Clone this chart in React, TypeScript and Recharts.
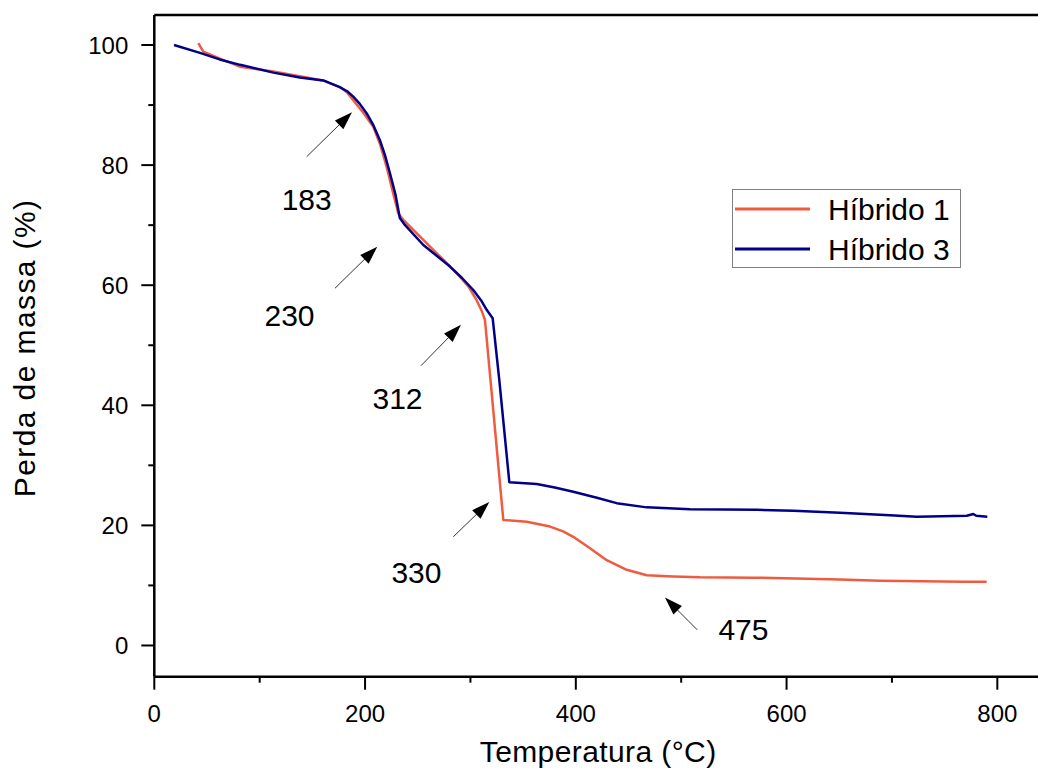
import React from 'react';
import {
  LineChart,
  Line,
  XAxis,
  YAxis,
  ReferenceLine,
  ReferenceDot,
  Legend,
  Label,
} from 'recharts';

// Thermogravimetric curves: temperature (°C) vs remaining mass (%)
const hibrido1Temp = [
  41.8, 46.5, 64, 81.3, 113, 138, 160, 176, 183, 188.8, 198, 207.8, 214, 220.5, 226,
  231.5, 236.3, 245.8, 264.8, 287, 298, 305.9, 310.5, 313.8, 320.2, 331.2, 353.4,
  375.5, 388, 397.6, 413.5, 429.3, 448.3, 467.3, 492.5, 517.8, 568.4, 619, 650.7,
  688.6, 767.7, 789.9,
];
const hibrido1Mass = [
  100.3, 98.9, 97.6, 96.4, 95.6, 94.8, 94.1, 93.0, 92.1, 90.8, 88.8, 86.4, 83.6,
  79.7, 75.8, 72.0, 70.9, 69.2, 65.9, 62.0, 59.8, 57.5, 55.8, 54.2, 42.0, 20.9, 20.6,
  19.8, 19.0, 18.1, 16.2, 14.2, 12.6, 11.7, 11.5, 11.35, 11.3, 11.1, 11.0,
  10.8, 10.6, 10.6,
];

const hibrido3Temp = [
  18.7, 43.3, 62, 81.5, 113, 138, 160.4, 176, 183, 188.8, 195, 201.6, 208, 214, 219,
  223.7, 229, 233, 238, 255.3, 268, 280.6, 292, 302.7, 310, 315.4, 321.1, 327.4,
  336.9, 362.9, 380, 397.6, 420, 438.8, 467.3, 508.4, 571.7, 606.4, 650.7, 698.1,
  723.5, 771, 777.2, 780, 790.5,
];
const hibrido3Mass = [
  100, 98.7, 97.6, 96.7, 95.4, 94.6, 94.1, 93.0, 92.3, 91.4, 90.2, 88.6, 86.6, 84.2,
  81.6, 78.6, 75.0, 71.2, 70.0, 66.7, 64.9, 63.1, 61.2, 59.2, 57.5, 55.9, 54.5, 44.2,
  27.2, 26.9, 26.3, 25.6, 24.6, 23.7, 23.0, 22.7, 22.6, 22.45, 22.1, 21.7,
  21.45, 21.6, 21.9, 21.6, 21.45,
];

// Axis ticks (majors are labelled, the others are minor marks)
const xTicks = [0, 100, 200, 300, 400, 500, 600, 700, 800];
const yTicks = [0, 10, 20, 30, 40, 50, 60, 70, 80, 90, 100];

// Decomposition-step annotations (text and arrow endpoints in data units)
const stepLabels = ['183', '230', '312', '330', '475'];
const stepTextTemp = [144.6, 128.3, 230.8, 248.8, 559.1];
const stepTextMass = [74.3, 55.0, 41.1, 12.2, 2.75];
const arrowTailTemp = [144.6, 171.5, 253.1, 283.7, 515.3];
const arrowTailMass = [81.4, 59.5, 46.6, 18.1, 2.6];
const arrowHeadTemp = [187.6, 211.6, 291.0, 317.9, 484.6];
const arrowHeadMass = [88.8, 66.4, 53.4, 23.9, 8.0];

const seriesNames = ['Híbrido 1', 'Híbrido 3'];
const seriesColors = ['#EF5B3F', '#00008B'];

const zip = (xs: number[], ys: number[]) => xs.map((t, i) => ({ temp: t, mass: ys[i] }));
const hibrido1 = zip(hibrido1Temp, hibrido1Mass);
const hibrido3 = zip(hibrido3Temp, hibrido3Mass);

const FONT = '"Liberation Sans", Arial, Helvetica, sans-serif';
const W = 1038;
const H = 771;

const XTick = (props: any) => {
  const { x, y, payload } = props;
  const major = payload.value % 200 === 0;
  return (
    <g>
      <line x1={x} y1={y} x2={x} y2={y + (major ? 13 : 6)} stroke="#000" strokeWidth={2} />
      {major && (
        <text x={x} y={y + 45} textAnchor="middle" fontSize={24} fontFamily={FONT} fill="#000">
          {payload.value}
        </text>
      )}
    </g>
  );
};

const YTick = (props: any) => {
  const { x, y, payload } = props;
  const major = payload.value % 20 === 0;
  return (
    <g>
      <line x1={x - (major ? 13 : 6)} y1={y} x2={x} y2={y} stroke="#000" strokeWidth={2} />
      {major && (
        <text x={x - 26} y={y} dy="0.36em" textAnchor="end" fontSize={24} fontFamily={FONT} fill="#000">
          {payload.value}
        </text>
      )}
    </g>
  );
};

const Arrow = (props: any) => {
  const { x1, y1, x2, y2 } = props;
  const dx = x2 - x1;
  const dy = y2 - y1;
  const len = Math.sqrt(dx * dx + dy * dy) || 1;
  const ux = dx / len;
  const uy = dy / len;
  const headLen = 18;
  const headHalf = 6;
  const bx = x2 - ux * headLen;
  const by = y2 - uy * headLen;
  const pts = `${x2},${y2} ${bx - uy * headHalf},${by + ux * headHalf} ${bx + uy * headHalf},${by - ux * headHalf}`;
  return (
    <g>
      <line x1={x1} y1={y1} x2={bx + ux * 2} y2={by + uy * 2} stroke="#333" strokeWidth={1} />
      <polygon points={pts} fill="#000" />
    </g>
  );
};

const StepText = (text: string) => (props: any) => (
  <text x={props.cx} y={props.cy} dy="0.36em" textAnchor="middle" fontSize={30} fontFamily={FONT} fill="#000">
    {text}
  </text>
);

const LegendBox = (props: any) => {
  const items = props.payload || [];
  return (
    <svg width={229} height={79} style={{ display: 'block' }}>
      <rect x={0.5} y={0.5} width={228} height={78} fill="#fff" stroke="#808080" strokeWidth={1} />
      {items.map((it: any, i: number) => (
        <g key={String(it.value)}>
          <line x1={3} x2={78} y1={20 + 40 * i} y2={20 + 40 * i} stroke={it.color} strokeWidth={3} />
          <text x={96} y={31 + 40 * i} fontSize={30} fontFamily={FONT} fill="#000">
            {it.value}
          </text>
        </g>
      ))}
    </svg>
  );
};

export default function App() {
  return (
    <div
      style={{
        position: 'fixed',
        left: 0,
        top: 0,
        width: W,
        height: H,
        overflow: 'hidden',
        background: '#fff',
      }}
    >
      <LineChart width={W} height={H} margin={{ top: 15, right: 0, bottom: 0, left: 0 }}>
        <XAxis
          dataKey="temp"
          type="number"
          domain={[0, 838.6]}
          allowDataOverflow
          ticks={xTicks}
          interval={0}
          tickSize={0}
          tickMargin={0}
          tickLine={false}
          tick={<XTick />}
          height={94.3}
          axisLine={{ stroke: '#000', strokeWidth: 2.5 }}
        >
          <Label
            value="Temperatura (°C)"
            content={(p: any) => {
              const vb = p.viewBox;
              return (
                <text
                  x={vb.x + vb.width / 2 + 2}
                  y={761.7}
                  textAnchor="middle"
                  fontSize={30}
                  fontFamily={FONT}
                  letterSpacing={0.4}
                  fill="#000"
                >
                  {p.value}
                </text>
              );
            }}
          />
        </XAxis>
        <YAxis
          dataKey="mass"
          type="number"
          domain={[-5.2, 105]}
          allowDataOverflow
          ticks={yTicks}
          interval={0}
          tickSize={0}
          tickMargin={0}
          tickLine={false}
          tick={<YTick />}
          width={154.3}
          axisLine={{ stroke: '#000', strokeWidth: 2.5 }}
        >
          <Label
            value="Perda de massa (%)"
            content={(p: any) => {
              const vb = p.viewBox;
              const cx = 35;
              const cy = vb.y + vb.height / 2 + 2;
              return (
                <text
                  x={cx}
                  y={cy}
                  transform={`rotate(-90, ${cx}, ${cy})`}
                  textAnchor="middle"
                  fontSize={30}
                  fontFamily={FONT}
                  letterSpacing={1.4}
                  fill="#000"
                >
                  {p.value}
                </text>
              );
            }}
          />
        </YAxis>
        <ReferenceLine y={105} stroke="#000" strokeWidth={2.5} />
        <Line
          data={hibrido1}
          dataKey="mass"
          name={seriesNames[0]}
          type="linear"
          stroke={seriesColors[0]}
          strokeWidth={2.5}
          strokeLinejoin="round"
          dot={false}
          activeDot={false}
          isAnimationActive={false}
        />
        <Line
          data={hibrido3}
          dataKey="mass"
          name={seriesNames[1]}
          type="linear"
          stroke={seriesColors[1]}
          strokeWidth={2.5}
          strokeLinejoin="round"
          dot={false}
          activeDot={false}
          isAnimationActive={false}
        />
        {stepLabels.map((s, i) => (
          <ReferenceLine
            key={`arrow-${s}`}
            segment={[
              { x: arrowTailTemp[i], y: arrowTailMass[i] },
              { x: arrowHeadTemp[i], y: arrowHeadMass[i] },
            ]}
            shape={Arrow}
          />
        ))}
        {stepLabels.map((s, i) => (
          <ReferenceDot
            key={`label-${s}`}
            x={stepTextTemp[i]}
            y={stepTextMass[i]}
            r={0}
            shape={StepText(s)}
          />
        ))}
        <Legend
          layout="vertical"
          align="center"
          verticalAlign="middle"
          content={<LegendBox />}
          wrapperStyle={{ left: 731.7, top: 189.3, width: 229, height: 79 }}
        />
      </LineChart>
    </div>
  );
}
